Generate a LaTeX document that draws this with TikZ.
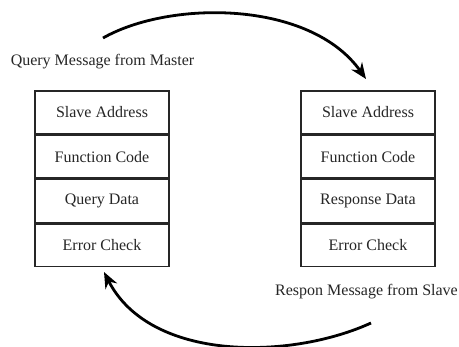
\documentclass[tikz,border=0pt]{standalone}
\usepackage{fontspec}
\setmainfont{Liberation Serif}
\usetikzlibrary{arrows.meta}
\begin{document}
\begin{tikzpicture}[x=1pt,y=-1pt,
  cell/.style={draw=black!85,line width=1.5pt,minimum width=134pt,minimum height=42.75pt,inner sep=0pt,
    font=\fontsize{16}{18}\selectfont,text=black!85},
  lbl/.style={font=\fontsize{16}{18}\selectfont,text=black!85,inner sep=0pt},
  flow/.style={line width=2.8pt,-{Stealth[length=16pt,width=13pt]}}]
\useasboundingbox (0,0) rectangle (459,347);
% left stack
\node[cell] (l1) at (102,112.4) {Slave Address};
\node[cell,anchor=north] (l2) at (l1.south) {Function Code};
\node[cell,anchor=north] (l3) at (l2.south) {Query Data};
\node[cell,anchor=north] (l4) at (l3.south) {Error Check};
% right stack
\node[cell] (r1) at (368,112.4) {Slave Address};
\node[cell,anchor=north] (r2) at (r1.south) {Function Code};
\node[cell,anchor=north] (r3) at (r2.south) {Response Data};
\node[cell,anchor=north] (r4) at (r3.south) {Error Check};
% labels
\node[lbl] (ql) at (102.5,62) {Query Message from Master};
\node[lbl] (rl) at (366.5,292) {Respon Message from Slave};
% arrows
\coordinate (qs) at (103,38);
\coordinate (qe) at (366,79);
\coordinate (rs) at (371,323);
\coordinate (re) at (104,272);
\draw[flow] (qs) .. controls (170,0) and (310,0) .. (qe);
\draw[flow] (rs) .. controls (290,360) and (150,362) .. (re);
\end{tikzpicture}
\end{document}
